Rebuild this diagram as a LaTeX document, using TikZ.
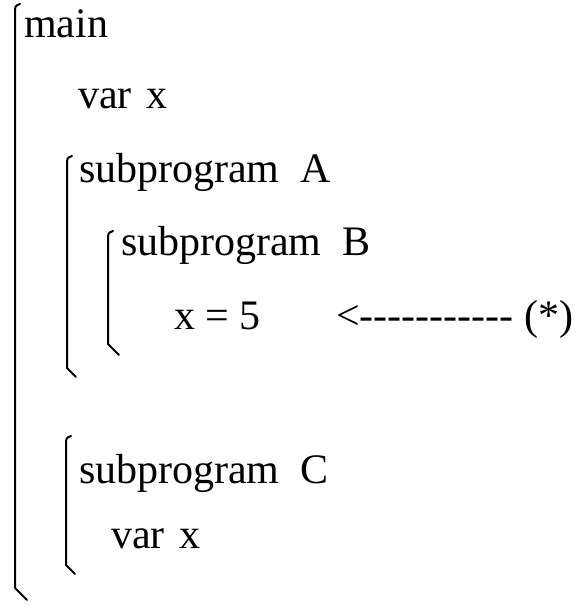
\documentclass[tikz,border=0pt]{standalone}
\usepackage{fontspec}
\newfontfamily\codefont{Liberation Serif}

\begin{document}
\begin{tikzpicture}[x=1pt, y=-1pt, line width=2pt,
    code/.style={anchor=base west, inner sep=0pt, font=\codefont\fontsize{42}{50}\selectfont}]
        \useasboundingbox (0,0) rectangle (574,606);
        \foreach \xb/\yt/\yb/\h in {15/9/588/12, 67/161/368/9, 108/236/344/11, 66/441/565/9}{
            \draw[line cap=round] (\xb+5,\yt-5) .. controls (\xb,\yt-3) .. (\xb,\yt+4)
                -- (\xb,\yb) -- (\xb+\h,\yb+\h);
        }
        \node[code] (main) at (23,37) {main};
        \node[code] (varx) at (77,108) {var\hspace{0.35em}x};
        \node[code] (subA) at (78,182) {subprogram\hspace{0.5em}A};
        \node[code] (subB) at (120,255) {subprogram\hspace{0.5em}B};
        \node[code] (assign) at (173,329) {x = 5};
        \node[code] (note) at (335,329) {<----------- (*)};
        \node[code] (subC) at (78,483) {subprogram\hspace{0.5em}C};
        \node[code] (varxC) at (110,548) {var\hspace{0.35em}x};
    \end{tikzpicture}
\end{document}
